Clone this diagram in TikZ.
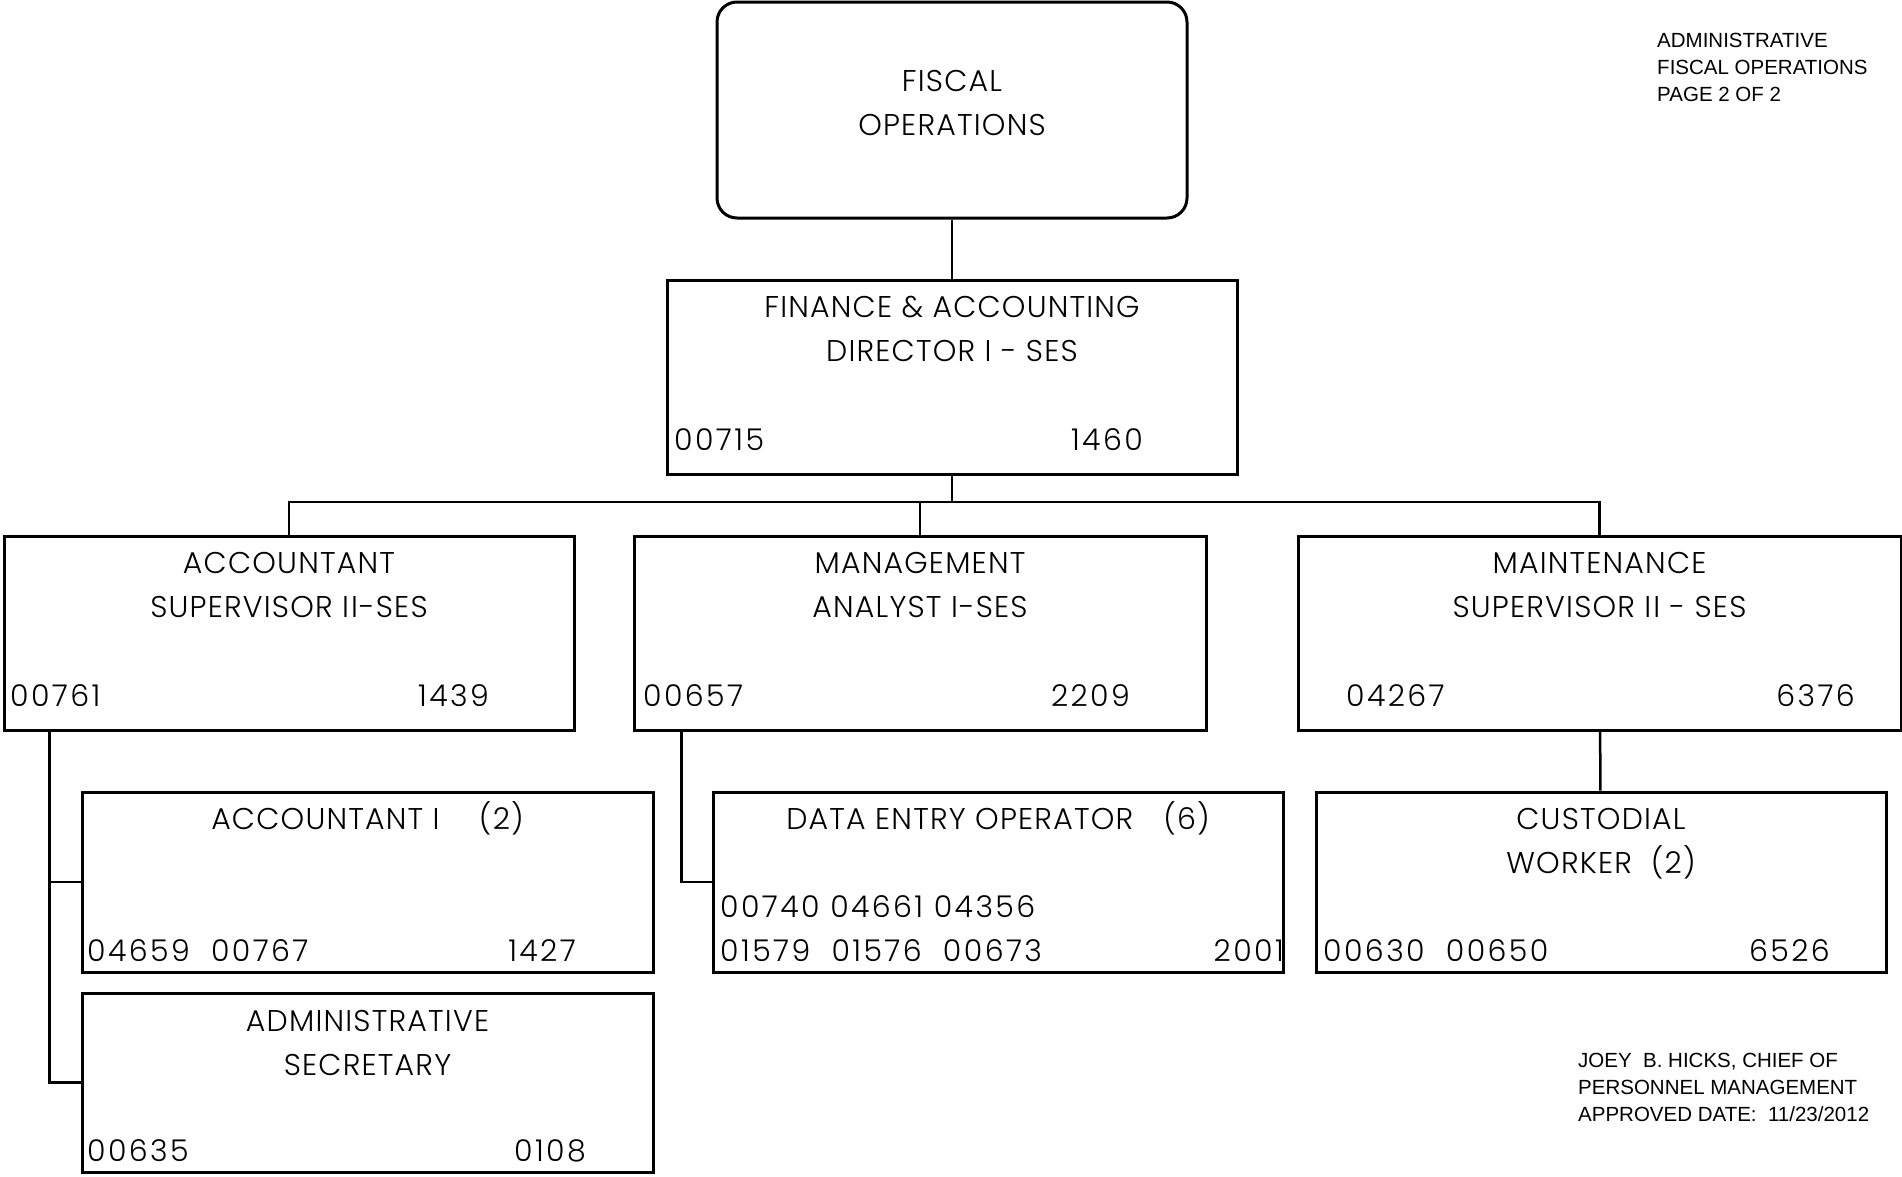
\documentclass[tikz,border=0pt]{standalone}
\usepackage{fontspec}
\usepackage{tikz}
\usetikzlibrary{positioning}
\newfontfamily\boxfont{Poppins Light}[LetterSpace=4]
\newfontfamily\numfont{Poppins Light}[LetterSpace=8]
\newfontfamily\notefont{Liberation Sans}
\tikzset{
    posbox/.style={draw,line width=3pt,inner sep=0pt},
    headbox/.style={posbox,rounded corners=20pt},
    ttl/.style={font=\boxfont\fontsize{30}{44}\selectfont,align=center,anchor=base,inner sep=0pt},
    num/.style={font=\numfont\fontsize{30}{44}\selectfont,inner sep=0pt},
    link/.style={draw,line width=2.5pt},
    note/.style={font=\notefont\fontsize{20.5}{27}\selectfont,align=left,anchor=base west,inner sep=0pt},
}

\begin{document}
\begin{tikzpicture}[x=1pt,y=-1pt]
    \useasboundingbox (0,0) rectangle (1902,1176);

    % multi-line nodes sit on the baseline of their last line
    \node[headbox,minimum width=470pt,minimum height=216pt] (fiscal) at (952,110) {};
    \node[ttl] (fiscal-t) at (952,135) {FISCAL\\OPERATIONS};

    \node[posbox,minimum width=570pt,minimum height=194pt] (dir) at (952,377) {};
    \node[ttl] (dir-t) at (952,361) {FINANCE \& ACCOUNTING\\DIRECTOR I - SES};
    \node[num,anchor=base west] (dir-id) at (674,450) {00715};
    \node[num,anchor=base east] (dir-cl) at (1143,450) {1460};

    \node[posbox,minimum width=570pt,minimum height=194pt] (accsup) at (289,633) {};
    \node[ttl] (accsup-t) at (289,617) {ACCOUNTANT\\SUPERVISOR I\kern2ptI-SES};
    \node[num,anchor=base west] (accsup-id) at (10,706) {00761};
    \node[num,anchor=base east] (accsup-cl) at (489,706) {1439};

    \node[posbox,minimum width=572pt,minimum height=194pt] (mgmt) at (920,633) {};
    \node[ttl] (mgmt-t) at (920,617) {MANAGEMENT\\ANALYST I-SES};
    \node[num,anchor=base west] (mgmt-id) at (643,706) {00657};
    \node[num,anchor=base east] (mgmt-cl) at (1130,706) {2209};

    \node[posbox,minimum width=603pt,minimum height=194pt] (maint) at (1599.5,633) {};
    \node[ttl] (maint-t) at (1599.5,617) {MAINTENANCE\\SUPERVISOR I\kern2ptI - SES};
    \node[num,anchor=base west] (maint-id) at (1346,706) {04267};
    \node[num,anchor=base east] (maint-cl) at (1855,706) {6376};

    \node[posbox,minimum width=571pt,minimum height=180pt] (acct1) at (367.5,882) {};
    \node[ttl] (acct1-t) at (367.5,829) {ACCOUNTANT I\quad\ (2)};
    \node[num,anchor=base west] (acct1-id) at (87,961) {04659\ \ 00767};
    \node[num,anchor=base east] (acct1-cl) at (576,961) {1427};

    \node[posbox,minimum width=571pt,minimum height=179pt] (admsec) at (367.5,1082.5) {};
    \node[ttl] (admsec-t) at (367.5,1075) {ADMINISTRATIVE\\SECRETARY};
    \node[num,anchor=base west] (admsec-id) at (87,1161) {00635};
    \node[num,anchor=base east] (admsec-cl) at (586,1161) {0108};

    \node[posbox,minimum width=570pt,minimum height=180pt] (dataent) at (998,882) {};
    \node[ttl] (dataent-t) at (998,829) {DATA ENTRY OPERATOR\quad(6)};
    \node[num,anchor=base west] (dataent-id1) at (720,917) {00740 04661 04356};
    \node[num,anchor=base west] (dataent-id2) at (720,961) {01579\ \ 01576\ \ 00673};
    \node[num,anchor=base east] (dataent-cl) at (1284,961) {2001};

    \node[posbox,minimum width=570pt,minimum height=180pt] (custod) at (1601,882) {};
    \node[ttl] (custod-t) at (1601,873) {CUSTODIAL\\WORKER\ \ (2)};
    \node[num,anchor=base west] (custod-id) at (1323,961) {00630\ \ 00650};
    \node[num,anchor=base east] (custod-cl) at (1830,961) {6526};

    \node[note] (page) at (1657,101) {ADMINISTRATIVE\\FISCAL OPERATIONS\\PAGE 2 OF 2};
    \node[note] (sign) at (1578,1121) {JOEY\ \ B. HICKS, CHIEF OF\\PERSONNEL MANAGEMENT\\APPROVED DATE:\ \ 11/23/2012};

    \coordinate (bus) at (952,502);
    \path[link] (fiscal) -- (dir);
    \draw[link] (dir) -- (bus) -| (accsup);
    \draw[link] (bus) -| (mgmt);
    \draw[link] (bus) -| (maint);
    \draw[link] ([xshift=47pt]accsup.south west) |- (acct1);
    \draw[link] ([xshift=47pt]accsup.south west) |- (admsec);
    \draw[link] ([xshift=49pt]mgmt.south west) |- (dataent);
    \draw[link] (maint) -- (custod);
\end{tikzpicture}
\end{document}
